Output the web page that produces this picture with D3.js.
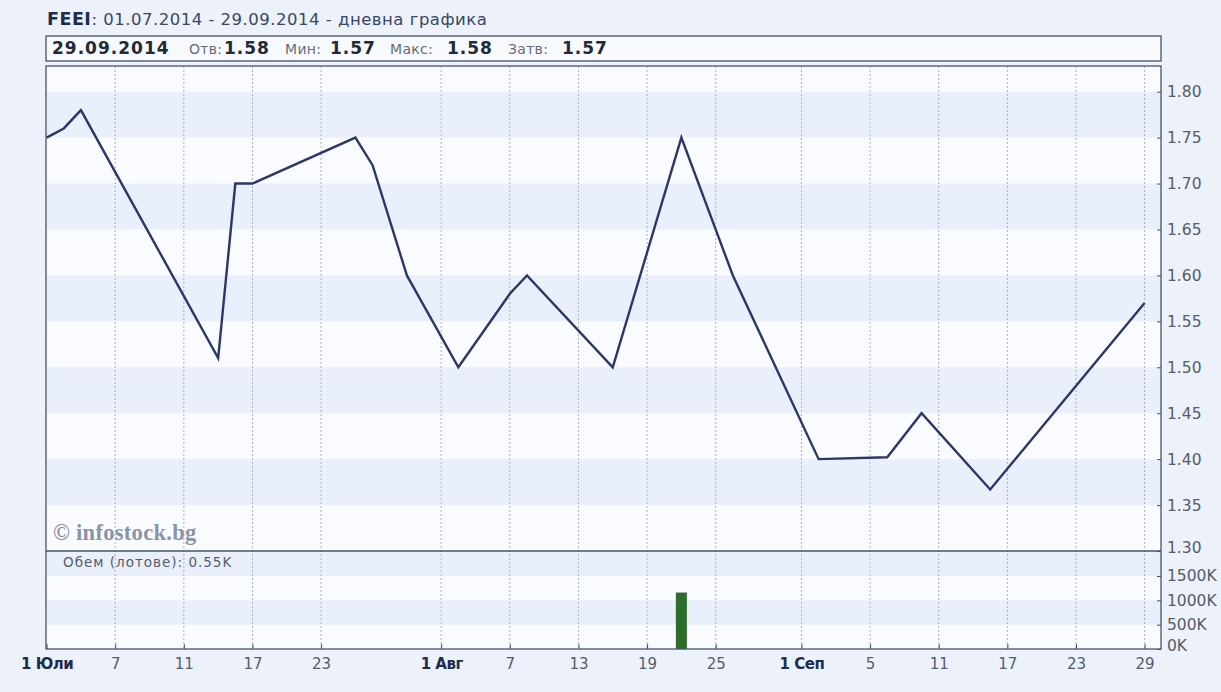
<!DOCTYPE html>
<html>
<head>
<meta charset="utf-8">
<script src="https://cdn.jsdelivr.net/npm/d3@7"></script>
<style>
  body { margin: 0; background: #ecf1fa; }
  svg { display: block; font-family: "DejaVu Sans", Verdana, sans-serif; }
</style>
</head>
<body>
<div id="chart"></div>
<script>
// ---- data ----
const tradeDates = ['2014-07-01','2014-07-02','2014-07-03','2014-07-15','2014-07-16','2014-07-17',
  '2014-07-25','2014-07-28','2014-07-30','2014-08-04','2014-08-07','2014-08-08','2014-08-15',
  '2014-08-21','2014-08-26','2014-09-02','2014-09-08','2014-09-10','2014-09-16','2014-09-29'];
const closes = [1.75, 1.76, 1.78, 1.51, 1.70, 1.70, 1.75, 1.72, 1.60, 1.50, 1.58, 1.60, 1.50,
  1.75, 1.60, 1.40, 1.402, 1.45, 1.367, 1.57];

const volumeDates = ['2014-08-21', '2014-09-29'];
const volumes = [1160, 0.55];   // in K lots

const tickDates = ['2014-07-01','2014-07-07','2014-07-11','2014-07-17','2014-07-23','2014-08-01',
  '2014-08-07','2014-08-13','2014-08-19','2014-08-25','2014-09-01','2014-09-05','2014-09-11',
  '2014-09-17','2014-09-23','2014-09-29'];
const tickLabels = ['1 Юли','7','11','17','23','1 Авг','7','13','19','25','1 Сеп','5','11','17','23','29'];
const monthStart = [true,false,false,false,false,true,false,false,false,false,true,false,false,false,false,false];

const priceTicks = [1.30, 1.35, 1.40, 1.45, 1.50, 1.55, 1.60, 1.65, 1.70, 1.75, 1.80];
const volumeTicks = [0, 500, 1000, 1500];

const headerParts = [
  { t: '29.09.2014', b: true, x: 52 }, { t: 'Отв:', b: false, x: 189 }, { t: '1.58', b: true, x: 224 },
  { t: 'Мин:', b: false, x: 285 }, { t: '1.57', b: true, x: 330 }, { t: 'Макс:', b: false, x: 390 },
  { t: '1.58', b: true, x: 447 }, { t: 'Затв:', b: false, x: 508 }, { t: '1.57', b: true, x: 562 }
];

// ---- layout ----
const width = 1221, height = 692;
const L = 46, R = 1161, T = 66, split = 551, B = 649;

const svg = d3.select('#chart').append('svg')
  .attr('width', width).attr('height', height);

const fmt = d3.timeFormat('%Y-%m-%d');
const parse = d3.timeParse('%Y-%m-%d');

// weekday calendar used by the chart's x axis
const days = d3.timeDay.range(parse('2014-07-01'), parse('2014-09-30'))
  .filter(d => d.getDay() !== 0 && d.getDay() !== 6)
  .map(fmt);

const x = d3.scalePoint().domain(days).range([46.6, 1144.6]);
const y = d3.scaleLinear().domain([1.30, 1.80]).range([split, 91.7]);
const yv = d3.scaleLinear().domain([0, 1500]).range([B, 576]);

// bands in price panel
const priceBands = priceTicks.slice(0, -1).map((v, i) => ({ lo: v, hi: priceTicks[i + 1], i }));
svg.append('rect').attr('x', L).attr('y', T).attr('width', R - L).attr('height', split - T)
  .attr('fill', '#f9fbfe');
svg.selectAll('.pband').data(priceBands.filter(d => d.i % 2 === 1))
  .enter().append('rect')
  .attr('x', L).attr('width', R - L)
  .attr('y', d => y(d.hi)).attr('height', d => y(d.lo) - y(d.hi))
  .attr('fill', '#e9f0fb');

// bands in volume panel
svg.append('rect').attr('x', L).attr('y', split).attr('width', R - L).attr('height', B - split)
  .attr('fill', '#e9f0fb');
const volBands = volumeTicks.slice(0, -1).map((v, i) => ({ lo: v, hi: volumeTicks[i + 1], i }));
svg.selectAll('.vband').data(volBands.filter(d => d.i % 2 === 0))
  .enter().append('rect')
  .attr('x', L).attr('width', R - L)
  .attr('y', d => yv(d.hi)).attr('height', d => yv(d.lo) - yv(d.hi))
  .attr('fill', '#f9fbfe');

// vertical dotted grid
svg.selectAll('.vgrid').data(tickDates.slice(1))
  .enter().append('line')
  .attr('x1', d => x(d)).attr('x2', d => x(d))
  .attr('y1', T).attr('y2', B)
  .attr('stroke', '#aab1be').attr('stroke-width', 1)
  .attr('stroke-dasharray', '2,2');

// watermark
svg.append('text').attr('x', 53).attr('y', 540)
  .attr('font-family', '"Liberation Serif", "DejaVu Serif", serif')
  .attr('font-weight', 'bold').attr('font-size', 22.5)
  .attr('letter-spacing', '0.3px')
  .attr('fill', '#8a94a5')
  .text('© infostock.bg');

// price line
const line = d3.line().x(d => x(d[0])).y(d => y(d[1]));
svg.append('path')
  .datum(tradeDates.map((d, i) => [d, closes[i]]))
  .attr('d', line)
  .attr('fill', 'none').attr('stroke', '#2c3768').attr('stroke-width', 2.4)
  .attr('stroke-linejoin', 'miter');

// volume bars
svg.selectAll('.vbar').data(volumeDates.map((d, i) => [d, volumes[i]]))
  .enter().append('rect')
  .attr('x', d => x(d[0]) - 5.5).attr('width', 11)
  .attr('y', d => yv(d[1])).attr('height', d => B - yv(d[1]))
  .attr('fill', '#2e6b2c');

// frame lines
const frame = svg.append('g').attr('stroke', '#44536a').attr('stroke-width', 1.3).attr('fill', 'none');
frame.append('rect').attr('x', L).attr('y', T).attr('width', R - L).attr('height', B - T);
frame.append('line').attr('x1', L).attr('x2', R).attr('y1', split).attr('y2', split);

// right axes
const yAxis = d3.axisRight(y).tickValues(priceTicks).tickFormat(d3.format('.2f')).tickSize(0).tickPadding(6);
const gy = svg.append('g').attr('transform', `translate(${R},0)`).call(yAxis);
const yvAxis = d3.axisRight(yv).tickValues(volumeTicks).tickFormat(d => d + 'K').tickSize(0).tickPadding(6);
const gyv = svg.append('g').attr('transform', `translate(${R},0)`).call(yvAxis);
[gy, gyv].forEach(g => {
  g.select('.domain').remove();
  g.selectAll('.tick text').attr('fill', '#555d6a').attr('font-size', 15.5)
    .attr('font-family', '"DejaVu Sans", sans-serif');
  g.selectAll('.tick').append('line').attr('x1', -4).attr('x2', 0).attr('stroke', '#44536a');
});
gy.selectAll('.tick').filter(d => d === 1.30).select('text').attr('dy', '0.1em');
gyv.selectAll('.tick').filter(d => d === 0).select('text').attr('dy', '0.1em');

// bottom axis
const xAxis = d3.axisBottom(x).tickValues(tickDates)
  .tickFormat((d, i) => tickLabels[i]).tickSize(0).tickPadding(9);
const gx = svg.append('g').attr('transform', `translate(0,${B})`).call(xAxis);
gx.select('.domain').remove();
gx.selectAll('.tick text')
  .attr('font-size', 15).attr('font-family', '"DejaVu Sans", sans-serif')
  .attr('fill', (d, i) => monthStart[i] ? '#1f2d4d' : '#555d6a')
  .attr('font-weight', (d, i) => monthStart[i] ? 'bold' : 'normal')
  .attr('letter-spacing', (d, i) => monthStart[i] ? '-0.5px' : '0');
gx.selectAll('.tick').append('line').attr('y1', 0).attr('y2', -5).attr('stroke', '#44536a');

// volume label
svg.append('text').attr('x', 63).attr('y', 567)
  .attr('font-size', 13.5).attr('letter-spacing', '1px').attr('fill', '#555d6a')
  .text('Обем (лотове): 0.55K');

// title
const title = svg.append('text').attr('x', 47).attr('y', 25)
  .attr('font-size', 16.5).attr('letter-spacing', '0.5px').attr('fill', '#3a4763');
title.append('tspan').attr('font-weight', 'bold').attr('font-size', 17.5).attr('fill', '#1f2d4d').text('FEEI');
title.append('tspan').text(': 01.07.2014 - 29.09.2014 - дневна графика');

// header box
svg.append('rect').attr('x', L).attr('y', 36).attr('width', R - L).attr('height', 25)
  .attr('fill', '#f7f9fd').attr('stroke', '#44536a').attr('stroke-width', 1.3);
const head = svg.append('text').attr('y', 54);
headerParts.forEach(p => {
  head.append('tspan')
    .attr('x', p.x)
    .attr('font-weight', p.b ? 'bold' : 'normal')
    .attr('fill', p.b ? '#222a3a' : '#666d78')
    .attr('font-size', p.b ? 17 : 14)
    .attr('letter-spacing', p.b ? '1px' : '0.3px')
    .text(p.t);
});
</script>
</body>
</html>
